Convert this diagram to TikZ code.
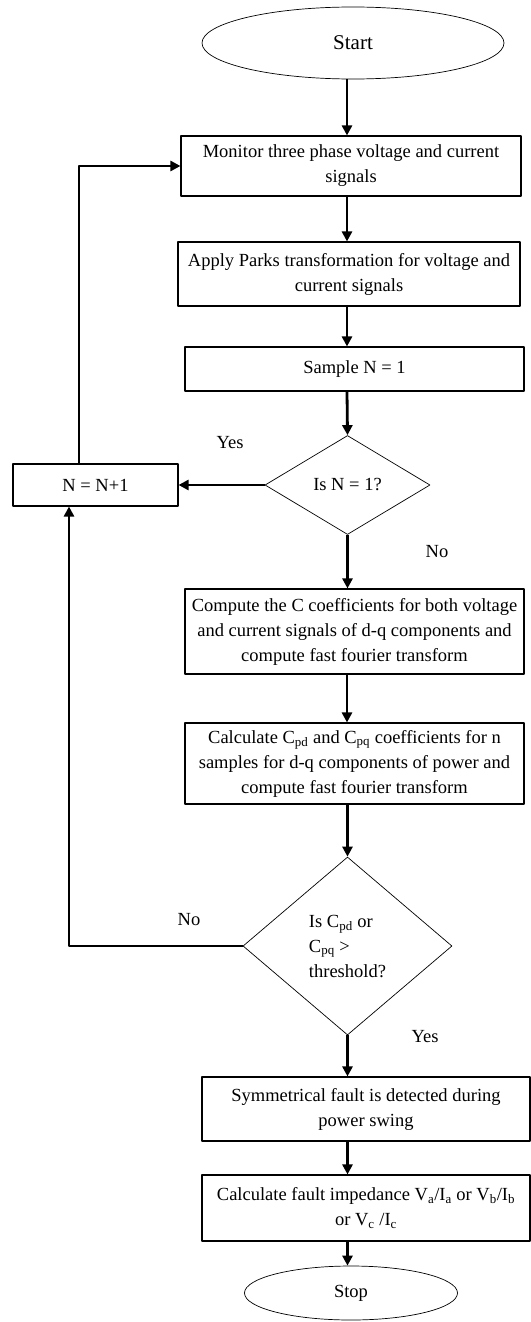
\documentclass[tikz,border=0pt]{standalone}
\usepackage{fontspec}
\setmainfont{Liberation Serif}
\usetikzlibrary{shapes.geometric,arrows.meta}
\begin{document}
\begin{tikzpicture}[x=1pt, y=-1pt, line join=round, font=\fontsize{18.5}{25}\selectfont,
    box/.style={draw, line width=1.1pt, inner sep=0pt, align=center, minimum width=339},
    dia/.style={draw, diamond, line width=0.7pt, inner sep=0pt},
    term/.style={draw, ellipse, line width=0.7pt, inner sep=0pt},
    arr/.style={line width=2.8pt, -{Triangle[length=10pt,width=10pt]}}]
    \useasboundingbox (0,0) rectangle (530,1322);
    \coordinate (sp) at (347,0); % spine of the chart
    % terminals and steps
    \node[term, minimum width=302, minimum height=72] (start) at (353,43) {\fontsize{21}{25}\selectfont Start};
    \node[box, minimum width=340, minimum height=60] (mon) at (351,166) {Monitor three phase voltage and current\\signals};
    \node[box, minimum width=342, minimum height=64] (park) at (349,274) {Apply Parks transformation for voltage and\\current signals};
    \node[box, minimum height=44] (samp) at (354.5,369) {Sample N = 1};
    \node[dia, minimum width=165, minimum height=99, aspect=1.67] (isone) at (347.5,485) {Is N = 1?};
    \node[box, minimum width=165, minimum height=42] (inc) at (95.5,485) {N = N+1};
    \node[box, minimum height=85] (coef) at (354.5,631.5) {Compute the C coefficients for both voltage\\and current signals of d-q components and\\compute fast fourier transform};
    \node[box, minimum height=81] (calc) at (354.5,763.5) {Calculate C\textsubscript{pd} and C\textsubscript{pq} coefficients for n\\samples for d-q components of power and\\compute fast fourier transform};
    \node[dia, minimum width=209, minimum height=178, aspect=1.17, align=left] (thr) at (347.5,946) {Is C\textsubscript{pd} or\\C\textsubscript{pq} >\\threshold?};
    \node[box, minimum width=328, minimum height=64] (sym) at (366,1109) {Symmetrical fault is detected during\\power swing};
    \node[box, minimum width=328, minimum height=66] (imp) at (366,1208) {Calculate fault impedance V\textsubscript{a}/I\textsubscript{a} or V\textsubscript{b}/I\textsubscript{b}\\or V\textsubscript{c} /I\textsubscript{c}};
    \node[term, minimum width=213, minimum height=54] (stop) at (351,1293) {Stop};
    % branch labels
    \node (yes1) at (230,443) {Yes};
    \node (no1) at (437,552) {No};
    \node (no2) at (189,920) {No};
    \node (yes2) at (425,1037) {Yes};
    % flow
    \draw[arr] (start.south -| sp) -- (mon.north -| sp);
    \draw[arr] (mon.south -| sp) -- (park.north -| sp);
    \draw[arr] (park.south -| sp) -- (samp.north -| sp);
    \draw[arr] (samp.south -| sp) -- (isone.north);
    \draw[arr] (isone.south) -- (coef.north -| isone.south);
    \draw[arr] (coef.south -| sp) -- (calc.north -| sp);
    \draw[arr] (calc.south -| thr.north) -- (thr.north);
    \draw[arr] (thr.south) -- (sym.north -| thr.south);
    \draw[arr] (sym.south -| thr.south) -- (imp.north -| thr.south);
    \draw[arr] (imp.south -| thr.south) -- (stop.north -| thr.south);
    % loops
    \draw[arr] (isone.west) -- (inc.east);
    \draw[arr] ([xshift=-16.5pt]inc.north) |- (mon.west);
    \draw[arr] (thr.west) -| ([xshift=-26.5pt]inc.south);
\end{tikzpicture}
\end{document}
